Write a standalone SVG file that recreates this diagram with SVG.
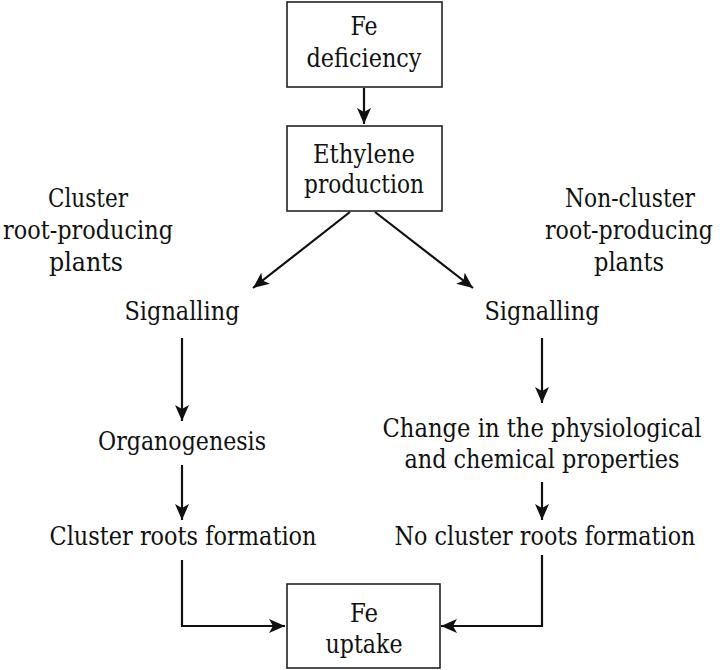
<svg xmlns="http://www.w3.org/2000/svg" width="720" height="670" viewBox="0 0 720 670">
<style>
text{font-family:'DejaVu Serif Condensed','DejaVu Serif',serif;font-stretch:condensed;font-size:25.5px;fill:#111;text-anchor:middle}
.box{fill:#fff;stroke:#222;stroke-width:1.6}
.conn{fill:none;stroke:#111;stroke-width:2.2;marker-end:url(#ah)}
</style>
<defs>
<marker id="ah" markerUnits="userSpaceOnUse" markerWidth="18" markerHeight="14" refX="16" refY="7" orient="auto">
<path d="M0,0 L16,7 L0,14 L4,7 Z" fill="#111"/>
</marker>
</defs>
<rect width="720" height="670" fill="#fff"/>
<g id="connectors">
<line class="conn" x1="364" y1="88" x2="364" y2="124"/>
<line class="conn" x1="350" y1="212" x2="253" y2="288"/>
<line class="conn" x1="375" y1="212" x2="473" y2="288"/>
<line class="conn" x1="182" y1="338" x2="182" y2="421"/>
<line class="conn" x1="182" y1="465" x2="182" y2="520"/>
<line class="conn" x1="542" y1="338" x2="542" y2="403"/>
<line class="conn" x1="542" y1="482" x2="542" y2="520"/>
<polyline class="conn" points="182,560 182,626 285,626"/>
<polyline class="conn" points="542,555 542,626 441,626"/>
</g>
<g id="fe-deficiency">
<rect class="box" x="287" y="2" width="155" height="85"/>
<text x="364" y="35" textLength="27" lengthAdjust="spacingAndGlyphs">Fe</text>
<text x="364" y="67" textLength="115" lengthAdjust="spacingAndGlyphs">deficiency</text>
</g>
<g id="ethylene-production">
<rect class="box" x="287" y="126" width="155" height="85"/>
<text x="364" y="163" textLength="102" lengthAdjust="spacingAndGlyphs">Ethylene</text>
<text x="364" y="193" textLength="120" lengthAdjust="spacingAndGlyphs">production</text>
</g>
<g id="cluster-label">
<text x="88" y="207" textLength="80" lengthAdjust="spacingAndGlyphs">Cluster</text>
<text x="88" y="239" textLength="170" lengthAdjust="spacingAndGlyphs">root-producing</text>
<text x="86" y="271" textLength="74" lengthAdjust="spacingAndGlyphs">plants</text>
</g>
<g id="noncluster-label">
<text x="630" y="207" textLength="130" lengthAdjust="spacingAndGlyphs">Non-cluster</text>
<text x="629" y="239" textLength="168" lengthAdjust="spacingAndGlyphs">root-producing</text>
<text x="629" y="271" textLength="70" lengthAdjust="spacingAndGlyphs">plants</text>
</g>
<g id="signalling-left"><text x="182" y="320" textLength="115" lengthAdjust="spacingAndGlyphs">Signalling</text></g>
<g id="signalling-right"><text x="542" y="320" textLength="115" lengthAdjust="spacingAndGlyphs">Signalling</text></g>
<g id="organogenesis"><text x="182" y="450" textLength="168" lengthAdjust="spacingAndGlyphs">Organogenesis</text></g>
<g id="change"><text x="542" y="437" textLength="319" lengthAdjust="spacingAndGlyphs">Change in the physiological</text><text x="542" y="468" textLength="275" lengthAdjust="spacingAndGlyphs">and chemical properties</text></g>
<g id="cluster-formation"><text x="183" y="545" textLength="267" lengthAdjust="spacingAndGlyphs">Cluster roots formation</text></g>
<g id="no-cluster-formation"><text x="545" y="545" textLength="301" lengthAdjust="spacingAndGlyphs">No cluster roots formation</text></g>
<g id="fe-uptake">
<rect class="box" x="287" y="584" width="153" height="84"/>
<text x="364" y="622" textLength="28" lengthAdjust="spacingAndGlyphs">Fe</text>
<text x="364" y="653" textLength="77" lengthAdjust="spacingAndGlyphs">uptake</text>
</g>
</svg>
